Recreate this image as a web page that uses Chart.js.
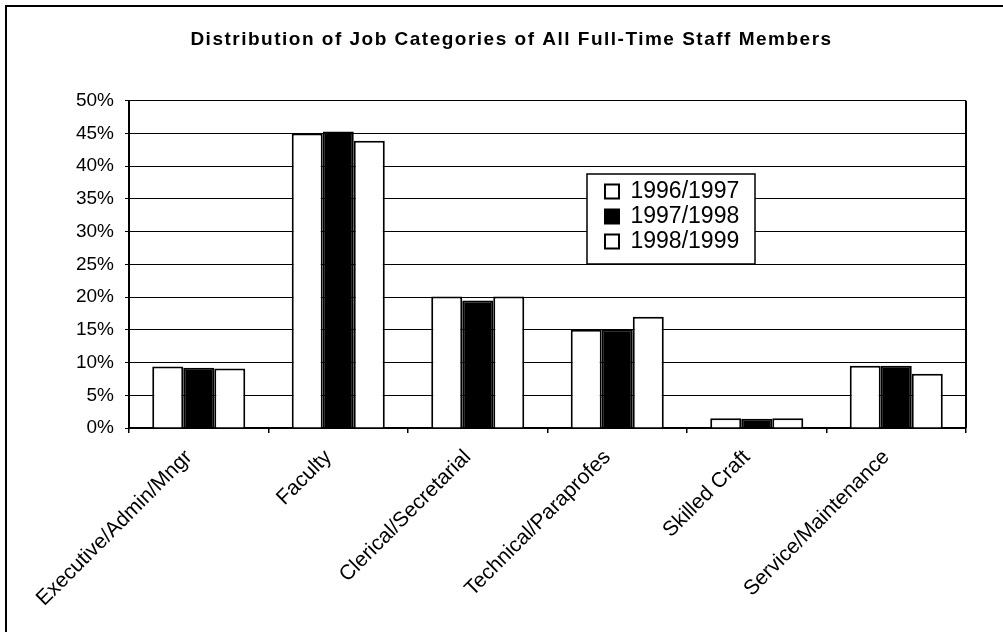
<!DOCTYPE html>
<html>
<head>
<meta charset="utf-8">
<script src="https://cdn.jsdelivr.net/npm/chart.js@4/dist/chart.umd.min.js"></script>
<style>
  html, body { margin: 0; padding: 0; background: #fff; }
  #wrap { width: 1003px; height: 632px; position: relative; }
</style>
</head>
<body>
<div id="wrap"><canvas id="c" width="1003" height="632"></canvas></div>
<script>
const chartTitle = 'Distribution of Job Categories of All Full-Time Staff Members';
const categories = ['Executive/Admin/Mngr', 'Faculty', 'Clerical/Secretarial', 'Technical/Paraprofes', 'Skilled Craft', 'Service/Maintenance'];
const seriesNames = ['1996/1997', '1997/1998', '1998/1999'];
const values1996 = [9.4, 45.0, 20.1, 15.0, 1.5, 9.5];
const values1997 = [9.2, 45.3, 19.5, 15.1, 1.4, 9.5];
const values1998 = [9.1, 43.9, 20.1, 17.0, 1.5, 8.3];
const yTicks = [0, 5, 10, 15, 20, 25, 30, 35, 40, 45, 50];

const FONT = '"Liberation Sans", Arial, Helvetica, sans-serif';

const decor = {
  id: 'decor',
  beforeDraw(chart) {
    const ctx = chart.ctx;
    ctx.save();
    ctx.fillStyle = '#fff';
    ctx.fillRect(0, 0, chart.width, chart.height);
    ctx.strokeStyle = '#000';
    ctx.lineWidth = 2;
    ctx.beginPath();
    ctx.moveTo(6, chart.height);
    ctx.lineTo(6, 6);
    ctx.lineTo(chart.width, 6);
    ctx.stroke();
    ctx.restore();
  },
  afterUpdate(chart) {
    const lg = chart.legend;
    if (lg) {
      const w = lg.width, h = lg.height;
      lg.left = 603; lg.top = 178;
      lg.right = lg.left + w; lg.bottom = lg.top + h;
      if (!lg._wrapped) {
        const orig = lg.draw;
        lg.draw = function () {
          const ctx = this.ctx;
          ctx.save();
          ctx.fillStyle = '#fff';
          ctx.strokeStyle = '#000';
          ctx.lineWidth = 1.5;
          ctx.fillRect(587, 174, 168, 90);
          ctx.strokeRect(587, 174, 168, 90);
          ctx.restore();
          orig.apply(this, arguments);
        };
        lg._wrapped = true;
      }
    }
    const tb = chart.titleBlock;
    if (tb && !tb._wrapped) {
      const origT = tb.draw;
      tb.draw = function () {
        const ctx = this.ctx;
        ctx.save();
        ctx.letterSpacing = '1.5px';
        origT.apply(this, arguments);
        ctx.restore();
      };
      tb._wrapped = true;
    }
  },
  afterDatasetsDraw(chart) {
    const a = chart.chartArea;
    const ctx = chart.ctx;
    ctx.save();
    ctx.strokeStyle = '#000';
    ctx.lineWidth = 2;
    ctx.beginPath();
    ctx.moveTo(a.right, a.top);
    ctx.lineTo(a.right, a.bottom);
    ctx.stroke();
    ctx.restore();
  }
};

new Chart(document.getElementById('c'), {
  type: 'bar',
  data: {
    labels: categories,
    datasets: [
      { label: seriesNames[0], data: values1996, backgroundColor: '#fff', borderColor: '#000', borderWidth: 2 },
      { label: seriesNames[1], data: values1997, backgroundColor: '#000', borderColor: '#000', borderWidth: 2 },
      { label: seriesNames[2], data: values1998, backgroundColor: '#fff', borderColor: '#000', borderWidth: 2 }
    ]
  },
  options: {
    responsive: false,
    animation: false,
    events: [],
    layout: { padding: { left: 57, right: 37, top: 0, bottom: 0 } },
    datasets: { bar: { categoryPercentage: 0.667, barPercentage: 1.0 } },
    plugins: {
      title: {
        display: true,
        text: chartTitle,
        color: '#000',
        font: { family: FONT, size: 19, weight: 'bold' },
        padding: { top: 28, bottom: 50 }
      },
      legend: {
        display: true,
        position: 'chartArea',
        align: 'start',
        labels: {
          color: '#000',
          font: { family: FONT, size: 23 },
          boxWidth: 14,
          boxHeight: 14,
          padding: 2
        }
      },
      tooltip: { enabled: false }
    },
    scales: {
      x: {
        grid: { drawOnChartArea: false, drawTicks: true, tickLength: 5, color: '#000', lineWidth: 1.5, offset: true },
        border: { color: '#000', width: 2 },
        ticks: {
          color: '#000',
          font: { family: FONT, size: 21 },
          minRotation: 45,
          maxRotation: 45,
          autoSkip: false,
          padding: 12,
          labelOffset: -10
        },
        afterFit(scale) { scale.height = 204; }
      },
      y: {
        min: 0,
        max: 50,
        afterBuildTicks(scale) { scale.ticks = yTicks.map(v => ({ value: v })); },
        grid: { color: '#000', lineWidth: 1, drawTicks: true, tickLength: 4, tickColor: '#000' },
        border: { color: '#000', width: 2 },
        ticks: {
          color: '#000',
          font: { family: FONT, size: 19 },
          padding: 11,
          callback: v => v + '%'
        },
        afterFit(scale) { scale.width = 72; }
      }
    }
  },
  plugins: [decor]
});
</script>
</body>
</html>
